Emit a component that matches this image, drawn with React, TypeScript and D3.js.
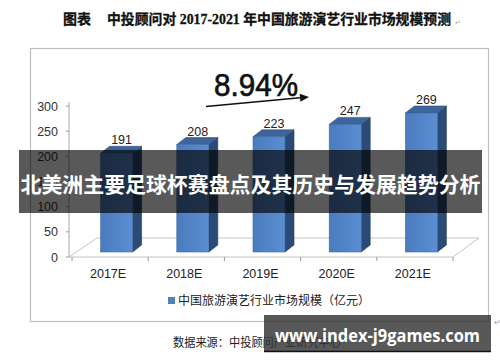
import React from "react";
import * as d3 from "d3";

const categories = ["2017E", "2018E", "2019E", "2020E", "2021E"];
const values = [191, 208, 223, 247, 269];
const yTicks = [0, 50, 100, 150, 200, 250, 300];
const titleLead = "图表";
const titleMain = "中投顾问对 2017-2021 年中国旅游演艺行业市场规模预测";
const growthLabel = "8.94%";
const legendLabel = "中国旅游演艺行业市场规模（亿元）";
const sourceLabel = "数据来源：中投顾问产业研究中心";
const bannerText = "北美洲主要足球杯赛盘点及其历史与发展趋势分析";
const watermarkText = "www.index-j9games.com";

const W = 500;
const H = 362;
const floorX0 = 69;
const floorX1 = 453;
const floorY = 257;
const floorDX = 26;
const floorDY = -19;
const barOffX = 6.5;
const barOffY = -5;
const barDX = 9;
const barDY = -7;

const latin = "Arial, 'Liberation Sans', 'Noto Sans CJK SC', sans-serif";
const cjk = "'Noto Sans CJK SC', 'Liberation Sans', sans-serif";

export default function App() {
  const x = d3.scaleBand<string>().domain(categories).range([floorX0 + 3, floorX1]).paddingInner(0.58).paddingOuter(0.29);
  const step = x.step();
  const yAxis = d3.scaleLinear().domain([0, 300]).range([floorY, 106]);
  const yBar = d3.scaleLinear().domain([0, 300]).range([floorY + barOffY, floorY + barOffY - 155]);
  const bw = x.bandwidth();

  const floorPts = [
    [floorX0, floorY],
    [floorX1, floorY],
    [floorX1 + floorDX, floorY + floorDY],
    [floorX0 + floorDX + 2, floorY + floorDY],
  ];

  const arrowStart = [206, 106.5];
  const arrowEnd = [309, 97];
  const ang = Math.atan2(arrowEnd[1] - arrowStart[1], arrowEnd[0] - arrowStart[0]);
  const ah = 9;
  const aw = 4;
  const bx = arrowEnd[0] - ah * Math.cos(ang);
  const by = arrowEnd[1] - ah * Math.sin(ang);
  const arrowHead = [
    [arrowEnd[0], arrowEnd[1]],
    [bx + aw * Math.sin(ang), by - aw * Math.cos(ang)],
    [bx - aw * Math.sin(ang), by + aw * Math.cos(ang)],
  ];

  return (
    <svg width={W} height={H} style={{ position: "absolute", left: 0, top: 0, background: "#fff" }}>
      <defs>
        <linearGradient id="front" x1="0" x2="1" y1="0" y2="0">
          <stop offset="0" stopColor="#4a7bbd" />
          <stop offset="1" stopColor="#5a8ed2" />
        </linearGradient>
      </defs>
      <rect x={0} y={0} width={W} height={H} fill="#fff" />

      {/* title */}
      <text x={63} y={24} fontFamily={"'Liberation Serif', 'Noto Sans CJK SC', serif"} fontWeight={700} fontSize={14} fill="#111" stroke="#111" strokeWidth={0.3}>
        {titleLead}
      </text>
      <text x={107} y={24} fontFamily={"'Liberation Serif', 'Noto Sans CJK SC', serif"} fontWeight={700} fontSize={14} fill="#111" stroke="#111" strokeWidth={0.3} textLength={344} lengthAdjust="spacingAndGlyphs">
        {titleMain}
      </text>
      <text x={455} y={25} fontFamily={latin} fontSize={7} fill="#aaa">↵</text>

      {/* chart frame */}
      <rect x={30.5} y={48.5} width={458} height={273} fill="#fff" stroke="#bdbdbd" strokeWidth={1.2} />

      {/* floor */}
      <polygon points={floorPts.map((p) => p.join(",")).join(" ")} fill="none" stroke="#c4c4c4" strokeWidth={1} />
      {d3.range(categories.length + 1).map((i) => {
        const xi = floorX0 + 3 + i * step;
        return <line key={i} x1={xi} x2={xi} y1={floorY} y2={floorY + 4} stroke="#999" strokeWidth={1} />;
      })}

      {/* y axis */}
      <line x1={floorX0} x2={floorX0} y1={yAxis(300) - 4} y2={floorY} stroke="#aaa" strokeWidth={1} />
      {yTicks.map((t) => (
        <g key={t}>
          <line x1={floorX0 - 3} x2={floorX0} y1={yAxis(t)} y2={yAxis(t)} stroke="#999" />
          <text x={58} y={yAxis(t) + 4.5} textAnchor="end" fontFamily={latin} fontSize={12.5} fill="#333">
            {t}
          </text>
        </g>
      ))}

      {/* bars */}
      {categories.map((c, i) => {
        const x0 = (x(c) as number) + barOffX;
        const x1 = x0 + bw;
        const yb = yBar(0);
        const yt = yBar(values[i]);
        const side = [[x1, yt], [x1 + barDX, yt + barDY], [x1 + barDX, yb + barDY], [x1, yb]];
        const top = [[x0, yt], [x1, yt], [x1 + barDX, yt + barDY], [x0 + barDX, yt + barDY]];
        return (
          <g key={c}>
            <polygon points={side.map((p) => p.join(",")).join(" ")} fill="#2c4a76" stroke="#233d62" strokeWidth={0.6} />
            <polygon points={top.map((p) => p.join(",")).join(" ")} fill="#3d659c" stroke="#2f5180" strokeWidth={0.6} />
            <rect x={x0} y={yt} width={bw} height={yb - yt} fill="url(#front)" stroke="#3f6da8" strokeWidth={0.6} />
            <text x={x0 + bw / 2 + 5} y={yt - 9} textAnchor="middle" fontFamily={latin} fontSize={12.5} fill="#222">
              {values[i]}
            </text>
          </g>
        );
      })}

      {/* category labels */}
      {categories.map((c) => (
        <text key={c} x={(x(c) as number) + bw / 2 - 2} y={278} textAnchor="middle" fontFamily={latin} fontSize={12.5} fill="#222">
          {c}
        </text>
      ))}

      {/* growth arrow */}
      <line x1={arrowStart[0]} y1={arrowStart[1]} x2={bx} y2={by} stroke="#111" strokeWidth={1.6} />
      <polygon points={arrowHead.map((p) => p.join(",")).join(" ")} fill="#111" />
      <text x={214} y={96} fontFamily={latin} fontSize={32} fill="#111" stroke="#111" strokeWidth={0.7} textLength={84} lengthAdjust="spacingAndGlyphs">
        {growthLabel}
      </text>

      {/* legend */}
      <rect x={168} y={297} width={7} height={7} fill="#4f81bd" />
      <text x={178} y={305} fontFamily={cjk} fontSize={12} fill="#222" textLength={192} lengthAdjust="spacingAndGlyphs">
        {legendLabel}
      </text>

      {/* source */}
      <text x={173} y={347} fontFamily={cjk} fontSize={12} fill="#222" textLength={168} lengthAdjust="spacingAndGlyphs">
        {sourceLabel}
      </text>

      {/* overlay banner */}
      <rect x={19} y={150} width={463} height={63} fill="#000" opacity={0.65} />
      <text x={250.5} y={192} textAnchor="middle" fontFamily={cjk} fontWeight={700} fontSize={21} fill="#fff" textLength={460} lengthAdjust="spacingAndGlyphs">
        {bannerText}
      </text>

      {/* watermark */}
      <rect x={264} y={315} width={227} height={37} fill="#333" opacity={0.82} />
      <line x1={264} x2={491} y1={351.5} y2={351.5} stroke="#111" strokeWidth={1.5} />
      <text x={275} y={342} fontFamily={"'Open Sans', 'DejaVu Sans', sans-serif"} fontWeight={700} fontSize={17} fill="#fff" textLength={205} lengthAdjust="spacingAndGlyphs">
        {watermarkText}
      </text>
      <text x={494} y={325} fontFamily={latin} fontSize={8} fill="#999">↵</text>
    </svg>
  );
}
